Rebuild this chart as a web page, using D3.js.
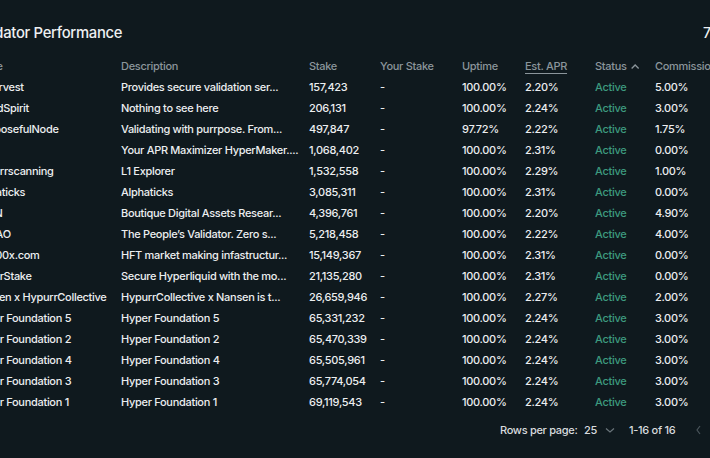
<!DOCTYPE html>
<html><head><meta charset="utf-8">
<script src="https://cdn.jsdelivr.net/npm/d3@7"></script>
<style>
html,body{margin:0;padding:0;background:#0f191e;overflow:hidden;}
svg{display:block;font-family:Inter,"Noto Sans",sans-serif;letter-spacing:-0.3px;}
</style></head><body>
<svg id="c" width="710" height="458"></svg>
<script>
const title = "Validator Performance";
const headers = ["Name","Description","Stake","Your Stake","Uptime","Est. APR","Status","Commission"];
const names = ["B-Harvest","LiquidSpirit","PurrposefulNode","","Hypurrscanning","Alphaticks","ASXN","ValDAO","Lab100x.com","HyperStake","Nansen x HypurrCollective","Hyper Foundation 5","Hyper Foundation 2","Hyper Foundation 4","Hyper Foundation 3","Hyper Foundation 1"];
const descriptions = ["Provides secure validation ser...","Nothing to see here","Validating with purrpose. From...","Your APR Maximizer HyperMaker....","L1 Explorer","Alphaticks","Boutique Digital Assets Resear...","The People’s Validator. Zero s...","HFT market making infastructur...","Secure Hyperliquid with the mo...","HypurrCollective x Nansen is t...","Hyper Foundation 5","Hyper Foundation 2","Hyper Foundation 4","Hyper Foundation 3","Hyper Foundation 1"];
const stakes = [157423,206131,497847,1068402,1532558,3085311,4396761,5218458,15149367,21135280,26659946,65331232,65470339,65505961,65774054,69119543];
const yourStakes = ["-","-","-","-","-","-","-","-","-","-","-","-","-","-","-","-"];
const uptimes = [100,100,97.72,100,100,100,100,100,100,100,100,100,100,100,100,100];
const aprs = [2.20,2.24,2.22,2.31,2.29,2.31,2.20,2.22,2.31,2.31,2.27,2.24,2.24,2.24,2.24,2.24];
const statuses = ["Active","Active","Active","Active","Active","Active","Active","Active","Active","Active","Active","Active","Active","Active","Active","Active"];
const commissions = [5.00,3.00,1.75,0.00,1.00,0.00,4.90,4.00,0.00,0.00,2.00,3.00,3.00,3.00,3.00,3.00];
const pagination = {label:"Rows per page:", size:"25", range:"1-16 of 16"};

const svg = d3.select("#c");
const fmtInt = d3.format(",");
const fmtPct = d3.format(".2f");
const FS = 11;

const x = d3.scaleOrdinal().domain(headers).range([-27,121,309,380,462,525,595,655]);
const y = d3.scaleBand().domain(d3.range(names.length)).range([77, 77 + 21*names.length]);

svg.append("text").attr("x",-30).attr("y",33).attr("dy","0.35em")
  .attr("fill","#eef0f2").attr("font-size",14.8).attr("font-weight",500).text(title);
svg.append("text").attr("x",703).attr("y",33).attr("dy","0.35em")
  .attr("fill","#eef0f2").attr("font-size",14).attr("font-weight",500).text("7");

const hdr = svg.append("g");
hdr.selectAll("text").data(headers).join("text")
  .attr("x",d=>x(d)).attr("y",66.5).attr("dy","0.35em")
  .attr("fill","#8b959b").attr("font-size",FS).attr("font-weight",500).text(d=>d);
const aprText = hdr.selectAll("text").filter(d=>d==="Est. APR").node();
const aw = aprText.getComputedTextLength();
hdr.append("line").attr("x1",x("Est. APR")).attr("x2",x("Est. APR")+aw)
  .attr("y1",73.5).attr("y2",73.5).attr("stroke","#8b959b").attr("stroke-width",1);
const stText = hdr.selectAll("text").filter(d=>d==="Status").node();
const sw = stText.getComputedTextLength();
const sx = x("Status")+sw+5;
hdr.append("path").attr("d",`M${sx},${68.5}L${sx+3.5},${65}L${sx+7},${68.5}`)
  .attr("fill","none").attr("stroke","#8b959b").attr("stroke-width",1.3);

const rows = names.map((n,i)=>({
  "Name":n,"Description":descriptions[i],"Stake":fmtInt(stakes[i]),"Your Stake":yourStakes[i],
  "Uptime":fmtPct(uptimes[i])+"%","Est. APR":fmtPct(aprs[i])+"%","Status":statuses[i],"Commission":fmtPct(commissions[i])+"%"
}));

const rg = svg.append("g").selectAll("g").data(rows).join("g")
  .attr("transform",(d,i)=>`translate(0,${y(i)+y.bandwidth()/2})`);
rg.selectAll("text").data(d=>headers.map(h=>({h,v:d[h]}))).join("text")
  .attr("x",d=>x(d.h)).attr("dy","0.35em").attr("font-size",FS).attr("font-weight",500)
  .attr("fill",d=>d.h==="Status"?"#3d9a7f":"#eceef0")
  .text(d=>d.v);

const py = 430;
svg.append("text").attr("x",500).attr("y",py).attr("dy","0.35em").attr("font-size",FS).attr("font-weight",500).attr("fill","#d8dbde").text(pagination.label);
svg.append("text").attr("x",584).attr("y",py).attr("dy","0.35em").attr("font-size",FS).attr("font-weight",500).attr("fill","#d8dbde").text(pagination.size);
svg.append("path").attr("d",`M606,${py-1.5}L610,${py+2}L614,${py-1.5}`).attr("fill","none").attr("stroke","#6b757b").attr("stroke-width",1.2);
svg.append("text").attr("x",629).attr("y",py).attr("dy","0.35em").attr("font-size",FS).attr("font-weight",500).attr("fill","#d8dbde").text(pagination.range);
svg.append("path").attr("d",`M700,${py-4}L697,${py}L700,${py+4}`).attr("fill","none").attr("stroke","#4a555b").attr("stroke-width",1.2);
</script></body></html>
